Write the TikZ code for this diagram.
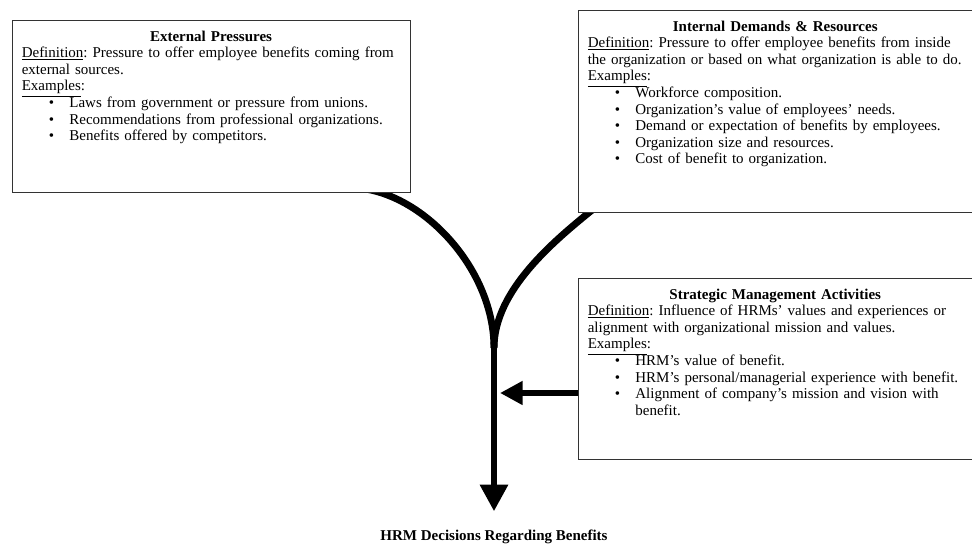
\documentclass[tikz,border=0pt]{standalone}
\usepackage{fontspec}
\setmainfont{Liberation Serif}
\usepackage{tikz}
\usetikzlibrary{arrows.meta, positioning, backgrounds}
\frenchspacing

\newenvironment{exlist}{%
  \begin{list}{\textbullet}{%
    \setlength\leftmargin{40pt}\setlength\labelwidth{10pt}%
    \setlength\labelsep{12.8pt}\setlength\itemsep{0pt}%
    \setlength\parsep{0pt}\setlength\topsep{0pt}\setlength\partopsep{0pt}}}%
  {\end{list}}

\begin{document}
\begin{tikzpicture}[
  x=0.84pt, y=-0.84pt,
  frame/.style={draw=black!80, fill=white, line width=0.8pt, anchor=north west,
    inner sep=0pt},
  blurb/.style={anchor=north west, inner xsep=8pt, inner ysep=9pt, align=left,
    font=\fontsize{12.6pt}{13.9pt}\selectfont},
  flow/.style={line width=5.8pt},
  >=Triangle
]
  \useasboundingbox (0,0) rectangle (972,546);

  % Boxes
  \node[frame, minimum width=334pt, minimum height=144.5pt] (ext) at (12,20) {};
  \node[frame, minimum width=331pt, minimum height=169.5pt] (int) at (578,10) {};
  \node[frame, minimum width=331pt, minimum height=152pt] (strat) at (578,278) {};

  \node[blurb, text width=318pt] (extT) at (ext.north west) {%
    {\centering\bfseries External Pressures\par}
    \underline{Definition}: Pressure to offer employee benefits coming from\\
    external sources.\\
    \underline{Examples}:
    \begin{exlist}
      \item Laws from government or pressure from unions.
      \item Recommendations from professional organizations.
      \item Benefits offered by competitors.
    \end{exlist}};

  \node[blurb, text width=315pt] (intT) at (int.north west) {%
    {\centering\bfseries Internal Demands \& Resources\par}
    \underline{Definition}: Pressure to offer employee benefits from inside\\
    the organization or based on what organization is able to do.\\
    \underline{Examples}:
    \begin{exlist}
      \item Workforce composition.
      \item Organization’s value of employees’ needs.
      \item Demand or expectation of benefits by employees.
      \item Organization size and resources.
      \item Cost of benefit to organization.
    \end{exlist}};

  \node[blurb, text width=315pt] (stratT) at (strat.north west) {%
    {\centering\bfseries Strategic Management Activities\par}
    \underline{Definition}: Influence of HRMs’ values and experiences or\\
    alignment with organizational mission and values.\\
    \underline{Examples}:
    \begin{exlist}
      \item HRM’s value of benefit.
      \item HRM’s personal/managerial experience with benefit.
      \item Alignment of company’s mission and vision with\\ benefit.
    \end{exlist}};

  % Outcome
  \node[anchor=base, inner sep=0pt, outer ysep=16pt,
    font=\fontsize{12.6pt}{13.9pt}\selectfont\bfseries] (dec) at (494,541)
    {HRM Decisions Regarding Benefits};

  % Arrows
  \coordinate (merge) at (494,348);
  \coordinate (tap) at (500,393);
  \begin{scope}[on background layer]
    \draw[flow] ([xshift=292pt,yshift=4pt]ext.south west)
      .. controls (425,195) and (494,270) .. (merge);
    \draw[flow] ([xshift=14pt,yshift=4pt]int.south west)
      .. controls (555,240) and (494,290) .. (merge);
    \draw[flow, -{Triangle[length=22.4pt, width=22.4pt]}] ([yshift=3pt]merge) -- (dec);
    \draw[flow, -{Triangle[length=19pt, width=19pt]}] (strat.west |- tap) -- (tap);
  \end{scope}
\end{tikzpicture}
\end{document}
